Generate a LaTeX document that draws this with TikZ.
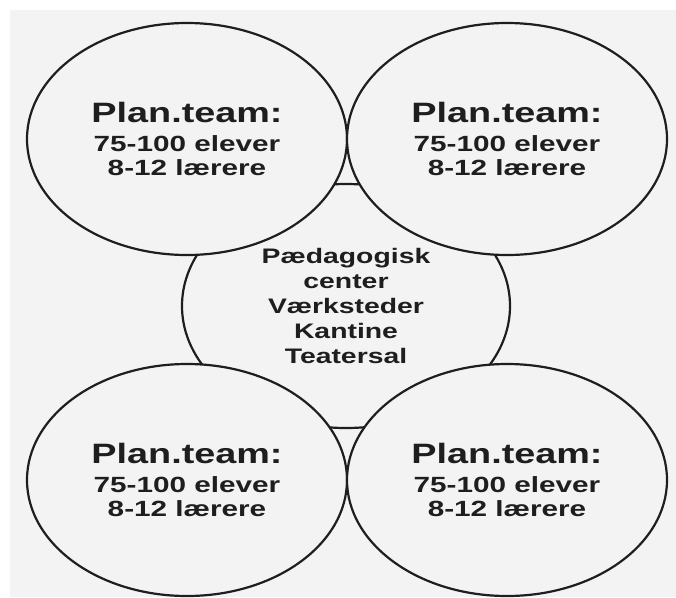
\documentclass[tikz,border=0pt]{standalone}
\usepackage{fontspec}
\setmainfont{Liberation Sans}[FakeStretch=1.35]
\usetikzlibrary{shapes.geometric}
\definecolor{bggray}{HTML}{F3F3F3}
\definecolor{inkc}{HTML}{1E1E1E}
\begin{document}
\begin{tikzpicture}[x=1pt,y=-1pt,
  shape base/.style={ellipse, draw=inkc, line width=2.2pt, fill=bggray, inner sep=0pt,
    align=center, text=inkc},
  team/.style={shape base, minimum width=320pt, minimum height=232pt,
    font=\bfseries\fontsize{22}{24}\selectfont},
  hub/.style={shape base, minimum width=328pt, minimum height=244pt,
    font=\bfseries\fontsize{21}{25}\selectfont},
  title/.style={}]
\useasboundingbox (0,0) rectangle (676,597);
\fill[white] (0,0) rectangle (676,597);
\fill[bggray] (10,10) rectangle (676,597);
\node[hub] (hub) at (346,306) {Pædagogisk\\center\\Værksteder\\Kantine\\Teatersal};
\node[team] (tl) at (187,139) {{\fontsize{28}{30}\selectfont Plan.team:}\\[5pt]75-100 elever\\8-12 lærere};
\node[team] (tr) at (507,139) {{\fontsize{28}{30}\selectfont Plan.team:}\\[5pt]75-100 elever\\8-12 lærere};
\node[team] (bl) at (187,480) {{\fontsize{28}{30}\selectfont Plan.team:}\\[5pt]75-100 elever\\8-12 lærere};
\node[team] (br) at (507,480) {{\fontsize{28}{30}\selectfont Plan.team:}\\[5pt]75-100 elever\\8-12 lærere};
\end{tikzpicture}
\end{document}
